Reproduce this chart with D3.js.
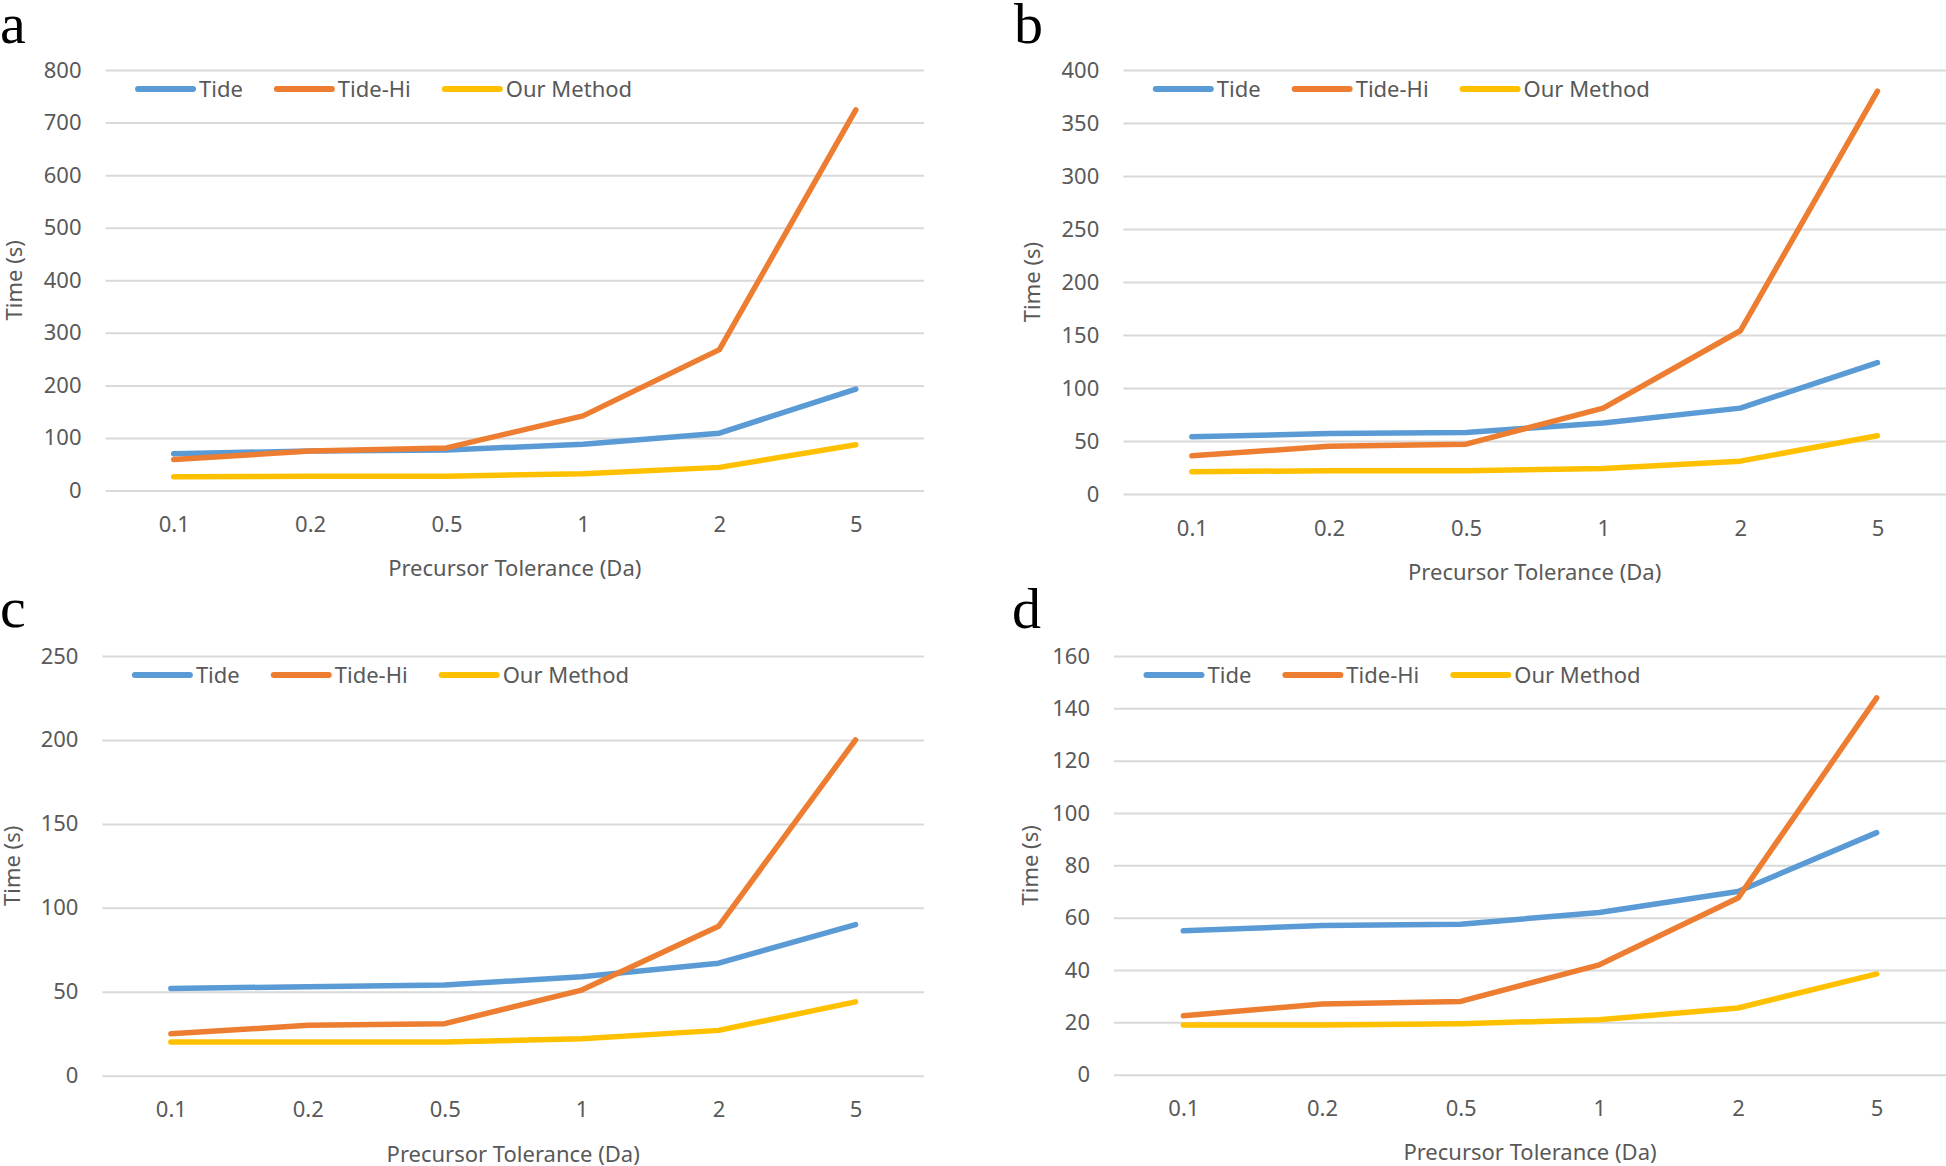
<!DOCTYPE html>
<html>
<head>
<meta charset="utf-8">
<script src="https://cdn.jsdelivr.net/npm/d3@7"></script>
<style>
  html, body { margin: 0; padding: 0; background: #ffffff; }
  svg { display: block; }
  text { font-family: "Noto Sans", "Open Sans", sans-serif; }
</style>
</head>
<body>
<svg id="chart" width="1946" height="1166"></svg>
<script>
// ---------- data ----------
const categories = ["0.1", "0.2", "0.5", "1", "2", "5"];
const seriesNames = ["Tide", "Tide-Hi", "Our Method"];

const tideA   = [70, 75, 77, 88, 109, 193];
const tideHiA = [59, 75, 81, 142, 268, 724];
const ourA    = [26, 27, 27, 32, 44, 87];
const ticksA  = [0, 100, 200, 300, 400, 500, 600, 700, 800];

const tideB   = [54, 57, 58, 67, 81, 124];
const tideHiB = [36, 45, 47, 81, 154, 380];
const ourB    = [21, 22, 22, 24, 31, 55];
const ticksB  = [0, 50, 100, 150, 200, 250, 300, 350, 400];

const tideC   = [52, 53, 54, 59, 67, 90];
const tideHiC = [25, 30, 31, 51, 89, 200];
const ourC    = [20, 20, 20, 22, 27, 44];
const ticksC  = [0, 50, 100, 150, 200, 250];

const tideD   = [55, 57, 57.5, 62, 70, 92.5];
const tideHiD = [22.5, 27, 28, 42, 67.5, 144];
const ourD    = [19, 19, 19.5, 21, 25.5, 38.5];
const ticksD  = [0, 20, 40, 60, 80, 100, 120, 140, 160];

const panelLetters = ["a", "b", "c", "d"];
const xTitle = "Precursor Tolerance (Da)";
const yTitle = "Time (s)";

// ---------- styles ----------
const colors = ["#5B9BD5", "#ED7D31", "#FFC000"];
const textColor = "#595959";
const gridColor = "#D9D9D9";
const fs = 22;

// ---------- layout (pixel geometry, separate from data) ----------
const panels = [
  { letter: panelLetters[0], series: [tideA, tideHiA, ourA], ticks: ticksA,
    left: 105.5, right: 924, top: 70, bottom: 490.5, lx: 0, ly: 43, yTitleX: 14, xTitleY: 568 },
  { letter: panelLetters[1], series: [tideB, tideHiB, ourB], ticks: ticksB,
    left: 1123.3, right: 1946, top: 70, bottom: 494, lx: 1014, ly: 42.5, yTitleX: 1032, xTitleY: 572 },
  { letter: panelLetters[2], series: [tideC, tideHiC, ourC], ticks: ticksC,
    left: 102.4, right: 924, top: 656, bottom: 1075.7, lx: 0, ly: 627, yTitleX: 12, xTitleY: 1154 },
  { letter: panelLetters[3], series: [tideD, tideHiD, ourD], ticks: ticksD,
    left: 1114, right: 1946, top: 656, bottom: 1074.7, lx: 1012, ly: 627.5, yTitleX: 1030, xTitleY: 1152 }
];

const svg = d3.select("#chart");

panels.forEach(p => {
  const g = svg.append("g");
  const w = p.right - p.left;

  const x = d3.scalePoint().domain(categories).range([p.left, p.right]).padding(0.5);
  const y = d3.scaleLinear().domain([p.ticks[0], p.ticks[p.ticks.length - 1]]).range([p.bottom, p.top]);

  // y axis with gridlines
  const yAxis = g.append("g")
    .attr("transform", `translate(${p.left},0)`)
    .call(d3.axisLeft(y).tickValues(p.ticks).tickSize(-w).tickPadding(24).tickFormat(d3.format("d")));
  yAxis.select(".domain").remove();
  yAxis.selectAll(".tick line").attr("stroke", gridColor).attr("stroke-width", 2);
  yAxis.selectAll(".tick text").attr("fill", textColor).style("font-size", fs + "px")
    .style("font-family", '"Noto Sans", sans-serif');

  // x axis
  const xAxis = g.append("g")
    .attr("transform", `translate(0,${p.bottom})`)
    .call(d3.axisBottom(x).tickSize(0).tickPadding(26));
  xAxis.select(".domain").remove();
  xAxis.selectAll(".tick text").attr("fill", textColor).style("font-size", fs + "px")
    .style("font-family", '"Noto Sans", sans-serif');

  // lines
  const line = d3.line().x((d, i) => x(categories[i])).y(d => y(d));
  p.series.forEach((s, si) => {
    g.append("path")
      .datum(s)
      .attr("fill", "none")
      .attr("stroke", colors[si])
      .attr("stroke-width", 5.5)
      .attr("stroke-linecap", "round")
      .attr("stroke-linejoin", "round")
      .attr("d", line);
  });

  // legend
  let lxPos = p.left + 29.5;
  const legY = p.top + 19;
  seriesNames.forEach((name, si) => {
    g.append("line")
      .attr("x1", lxPos + 3).attr("x2", lxPos + 58)
      .attr("y1", legY).attr("y2", legY)
      .attr("stroke", colors[si]).attr("stroke-width", 6).attr("stroke-linecap", "round");
    const t = g.append("text")
      .attr("x", lxPos + 64).attr("y", legY + 8)
      .attr("fill", textColor).style("font-size", fs + "px")
      .text(name);
    const tw = t.node().getComputedTextLength();
    lxPos = lxPos + 64 + tw + 31;
  });

  // axis titles
  g.append("text")
    .attr("x", (p.left + p.right) / 2).attr("y", p.xTitleY + 8)
    .attr("text-anchor", "middle").attr("fill", textColor).style("font-size", fs + "px")
    .text(xTitle);
  g.append("text")
    .attr("transform", `translate(${p.yTitleX + 8},${(p.top + p.bottom) / 2}) rotate(-90)`)
    .attr("text-anchor", "middle").attr("fill", textColor).style("font-size", fs + "px")
    .text(yTitle);

  // panel letter
  g.append("text")
    .attr("x", p.lx).attr("y", p.ly)
    .attr("fill", "#000")
    .style("font-family", '"Liberation Serif", "Times New Roman", serif')
    .style("font-size", "58px")
    .text(p.letter);
});
</script>
</body>
</html>
